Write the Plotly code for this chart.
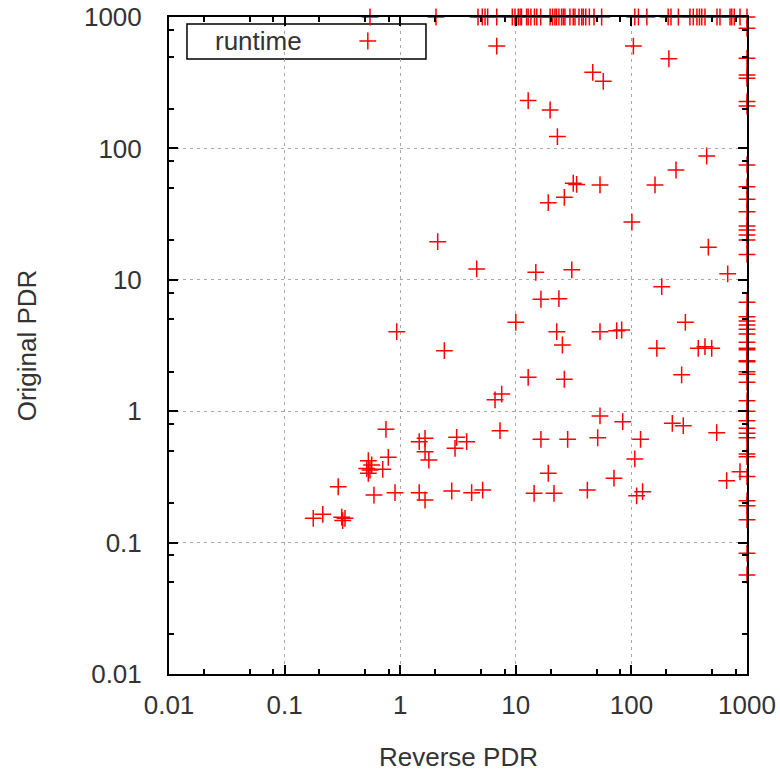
import plotly.graph_objects as go

# ---------------- data ----------------
# points strictly inside the plot
reverse_pdr = [6.84, 12.8, 19.8, 22.9, 46.3, 57.1, 104, 211, 448, 243, 31.4, 33.6, 53.5, 160,
               26.3, 19.1, 101, 463, 4.59, 14.9, 30.5, 681, 183, 16.5, 23.6, 10.0, 293, 22.6,
               53.5, 74.6, 82.4, 2.11, 0.933, 2.41, 25.3, 166, 379, 433, 495, 12.8, 26.3, 272,
               7.55, 6.61, 53.5, 84.1, 226, 281, 547, 7.30, 16.5, 28.1, 51.1, 120, 107, 19.1,
               70.7, 667, 870, 5.17, 14.4, 21.4, 41.6, 111, 125, 0.753, 1.46, 1.64, 1.64, 1.77,
               3.08, 3.76, 2.98, 0.789, 0.530, 0.567, 0.706, 0.513, 0.548, 0.530, 0.291, 0.593,
               0.902, 1.46, 1.64, 2.79, 4.15, 0.177, 0.214, 0.312, 0.333, 0.318]
original_pdr = [601, 231, 196, 123, 379, 324, 601, 481, 87.5, 68.5, 54.3, 53.2, 52.7, 52.7,
                42.4, 38.6, 27.5, 17.7, 12.1, 11.4, 11.9, 11.1, 8.86, 7.11, 7.18, 4.75, 4.75, 4.03,
                4.03, 4.10, 4.15, 19.5, 4.03, 2.89, 3.19, 3.01, 3.01, 3.10, 3.01, 1.81, 1.75, 1.89,
                1.35, 1.22, 0.92, 0.832, 0.809, 0.776, 0.686, 0.711, 0.611, 0.611, 0.628, 0.611,
                0.433, 0.337, 0.309, 0.296, 0.346, 0.251, 0.237, 0.237, 0.251, 0.227, 0.244, 0.728,
                0.586, 0.622, 0.492, 0.425, 0.633, 0.586, 0.522, 0.446, 0.420, 0.390, 0.361, 0.367,
                0.357, 0.337, 0.266, 0.230, 0.240, 0.240, 0.211, 0.247, 0.240, 0.153, 0.164, 0.156,
                0.153, 0.147]

# points whose Original PDR is at the 1000 limit (top border)
top_reverse_pdr = [0.548, 2.04, 4.71, 5.13, 5.42, 5.71, 6.84, 9.33, 9.84, 10.5, 10.9, 11.2,
                   12.4, 12.8, 13.5, 14.5, 15.2, 16.4, 19.8, 20.8, 21.8, 22.5, 23.6, 24.9, 25.8,
                   26.6, 29.4, 31.4, 32.5, 35.2, 37.2, 38.4, 40.3, 43.3, 47.5, 55.3, 107, 115,
                   136, 208, 220, 255, 321, 343, 369, 388, 406, 433, 550, 584, 713, 738, 776,
                   870, 1000]
# points whose Reverse PDR is at the 1000 limit (right border)
right_original_pdr = [820, 485, 362, 342, 227, 210, 74.8, 51.1, 41.0, 33.0, 25.7, 23.9, 21.9,
                      20.1, 15.6, 6.74, 5.24, 4.86, 4.53, 4.20, 3.87, 3.35, 3.01, 2.94, 2.42,
                      2.38, 2.0, 1.91, 1.66, 1.20, 1.0, 0.847, 0.741, 0.679, 0.628, 0.472, 0.451,
                      0.318, 0.208, 0.191, 0.149, 0.0829, 0.0567]
LIMIT = 1000

tick_vals = [0.01, 0.1, 1, 10, 100, 1000]
tick_text = ["0.01", "0.1", "1", "10", "100", "1000"]
minor_vals = [d * m for d in [0.01, 0.1, 1, 10, 100] for m in (2, 5, 8)]

series_name = "runtime"
x_title = "Reverse PDR"
y_title = "Original PDR"

# ---------------- figure ----------------
x_all = reverse_pdr + top_reverse_pdr + [LIMIT] * len(right_original_pdr)
y_all = original_pdr + [LIMIT] * len(top_reverse_pdr) + right_original_pdr

RED = "#ff0000"
FONT = "Liberation Sans"
FS = 26
TXT = "#333333"

fig = go.Figure()
fig.add_trace(go.Scatter(
    x=x_all, y=y_all, mode="markers", name=series_name, cliponaxis=False,
    marker=dict(symbol="cross-thin", size=12, line=dict(color=RED, width=1.5)),
    showlegend=False,
))
# legend sample marker (on an overlay axis with unit range)
fig.add_trace(go.Scatter(
    x=[0.344], y=[0.9635], xaxis="x2", yaxis="y2", mode="markers", showlegend=False,
    marker=dict(symbol="cross-thin", size=12, line=dict(color=RED, width=1.5)),
    hoverinfo="skip",
))

axis_common = dict(
    type="log", range=[-2, 3], tickmode="array", tickvals=tick_vals, ticktext=tick_text,
    showline=True, linecolor="black", linewidth=2, mirror="ticks",
    ticks="inside", ticklen=9, tickwidth=2, tickcolor="black",
    showgrid=True, gridcolor="#a8a8a8", gridwidth=1, griddash="3px,4px",
    zeroline=False, layer="above traces", automargin=False,
    tickfont=dict(family=FONT, size=FS, color=TXT),
    minor=dict(tickmode="array", tickvals=minor_vals, ticks="inside", ticklen=5,
               tickwidth=1.5, tickcolor="black", showgrid=False),
)

fig.update_layout(
    width=780, height=773,
    margin=dict(l=169, r=33, t=17, b=99, autoexpand=False),
    paper_bgcolor="white", plot_bgcolor="white",
    xaxis=dict(**axis_common, ticklabelstandoff=7),
    yaxis=dict(**axis_common, ticklabelstandoff=20),
    xaxis2=dict(overlaying="x", range=[0, 1], visible=False),
    yaxis2=dict(overlaying="y", range=[0, 1], visible=False),
    showlegend=False,
    shapes=[dict(type="rect", xref="paper", yref="paper", x0=0.0311, x1=0.4446,
                 y0=0.936, y1=0.9893, line=dict(color="black", width=1.5),
                 fillcolor="white", layer="below")],
    annotations=[
        dict(text=series_name, xref="paper", yref="paper", x=0.0761, y=0.9635,
             xanchor="left", yanchor="middle", showarrow=False,
             font=dict(family=FONT, size=FS, color=TXT)),
        dict(text=x_title, xref="paper", yref="paper", x=0.5, y=-0.1263,
             xanchor="center", yanchor="middle", showarrow=False,
             font=dict(family=FONT, size=FS, color=TXT)),
        dict(text=y_title, xref="paper", yref="paper", x=-0.246, y=0.5, textangle=-90,
             xanchor="center", yanchor="middle", showarrow=False,
             font=dict(family=FONT, size=FS, color=TXT)),
    ],
)

fig.write_html("out.html")
